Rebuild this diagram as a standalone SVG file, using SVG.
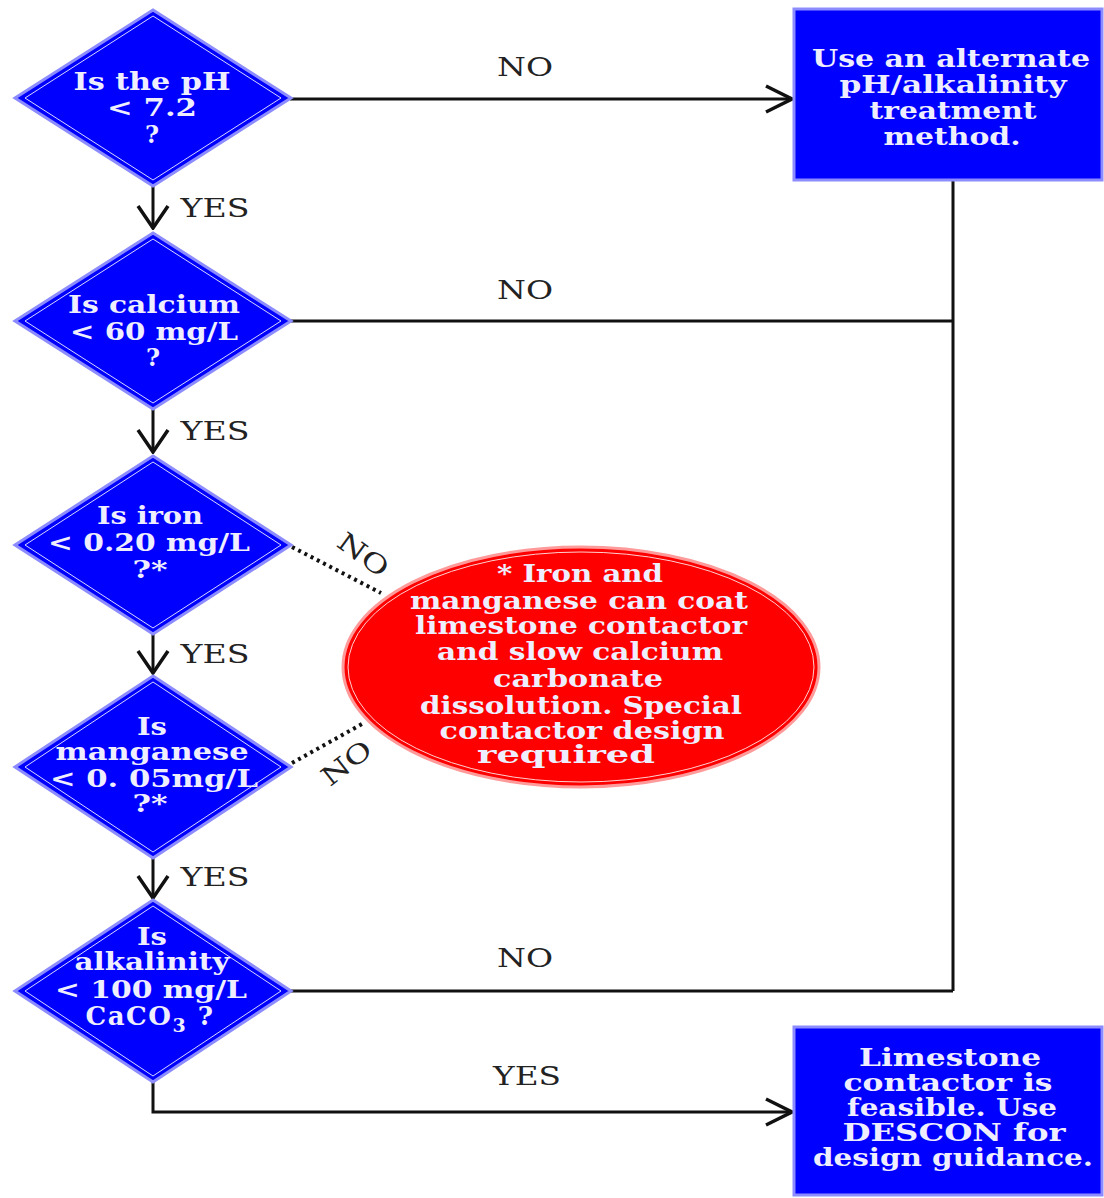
<svg xmlns="http://www.w3.org/2000/svg" width="1104" height="1198" viewBox="0 0 1104 1198">
<style>
.dia{fill:#0000ff;stroke:#8c8cff;stroke-width:3}
.inner{fill:none;stroke:#d8d8ff;stroke-width:1}
.box{fill:#0000ff;stroke:#8c8cff;stroke-width:3}
.t{font-family:"DejaVu Serif","Liberation Serif",serif;font-weight:bold;font-size:24px;fill:#eeeeff;text-anchor:middle}
.lbl{font-family:"DejaVu Serif","Liberation Serif",serif;font-size:26px;fill:#222;text-anchor:middle}
.ln{fill:none;stroke:#111;stroke-width:3}
.dot{fill:none;stroke:#111;stroke-width:4;stroke-dasharray:3 4}
</style>
<defs>
<marker id="ar" viewBox="0 0 30 30" refX="28" refY="15" markerWidth="30" markerHeight="30" markerUnits="userSpaceOnUse" orient="auto">
<path d="M2,2 L28,15 L2,28" fill="none" stroke="#111" stroke-width="3.5"/>
</marker>
<marker id="ad" viewBox="0 0 26 34" refX="24" refY="17" markerWidth="26" markerHeight="34" markerUnits="userSpaceOnUse" orient="auto">
<path d="M2,2 L24,17 L2,32" fill="none" stroke="#111" stroke-width="3.5"/>
</marker>
</defs>
<rect width="1104" height="1198" fill="#ffffff"/>

<g id="connectors">
<line class="ln" x1="290" y1="99" x2="792" y2="99" marker-end="url(#ar)"/>
<line class="ln" x1="953" y1="180" x2="953" y2="991"/>
<line class="ln" x1="290" y1="321" x2="953" y2="321"/>
<line class="ln" x1="290" y1="991" x2="953" y2="991"/>
<path class="ln" d="M153,1082 V1112 H792" marker-end="url(#ar)"/>
<line class="ln" x1="153" y1="186" x2="153" y2="228" marker-end="url(#ad)"/>
<line class="ln" x1="153" y1="409" x2="153" y2="452" marker-end="url(#ad)"/>
<line class="ln" x1="153" y1="633" x2="153" y2="673" marker-end="url(#ad)"/>
<line class="ln" x1="153" y1="858" x2="153" y2="898" marker-end="url(#ad)"/>
<line class="dot" x1="292" y1="547" x2="381" y2="593"/>
<line class="dot" x1="292" y1="763" x2="362" y2="724"/>
<text class="lbl" x="525" y="76" textLength="56" lengthAdjust="spacingAndGlyphs">NO</text>
<text class="lbl" x="525" y="299" textLength="56" lengthAdjust="spacingAndGlyphs">NO</text>
<text class="lbl" x="525" y="967" textLength="56" lengthAdjust="spacingAndGlyphs">NO</text>
<text class="lbl" x="527" y="1085" textLength="68" lengthAdjust="spacingAndGlyphs">YES</text>
<text class="lbl" x="215" y="217" textLength="69" lengthAdjust="spacingAndGlyphs">YES</text>
<text class="lbl" x="215" y="440" textLength="69" lengthAdjust="spacingAndGlyphs">YES</text>
<text class="lbl" x="215" y="663" textLength="69" lengthAdjust="spacingAndGlyphs">YES</text>
<text class="lbl" x="215" y="886" textLength="69" lengthAdjust="spacingAndGlyphs">YES</text>
<text class="lbl" transform="translate(358,562) rotate(36)" x="0" y="0" textLength="56" lengthAdjust="spacingAndGlyphs">NO</text>
<text class="lbl" transform="translate(352,770) rotate(-38)" x="0" y="0" textLength="56" lengthAdjust="spacingAndGlyphs">NO</text>
</g>

<g id="q-ph">
<polygon class="dia" points="153,10 291,98 153,186 15,98"/>
<polygon class="inner" points="153,16 281,98 153,180 25,98"/>
<text class="t" x="152" y="90" textLength="157" lengthAdjust="spacingAndGlyphs">Is the pH</text>
<text class="t" x="152" y="116" textLength="90" lengthAdjust="spacingAndGlyphs">&lt; 7.2</text>
<text class="t" x="152" y="143">?</text>
</g>

<g id="q-calcium">
<polygon class="dia" points="153,233 291,321 153,409 15,321"/>
<polygon class="inner" points="153,239 281,321 153,403 25,321"/>
<text class="t" x="154" y="313" textLength="172" lengthAdjust="spacingAndGlyphs">Is calcium</text>
<text class="t" x="154" y="340" textLength="168" lengthAdjust="spacingAndGlyphs">&lt; 60 mg/L</text>
<text class="t" x="153" y="366">?</text>
</g>

<g id="q-iron">
<polygon class="dia" points="153,456 291,545 153,634 15,545"/>
<polygon class="inner" points="153,462 281,545 153,628 25,545"/>
<text class="t" x="150" y="524" textLength="106" lengthAdjust="spacingAndGlyphs">Is iron</text>
<text class="t" x="149" y="551" textLength="202" lengthAdjust="spacingAndGlyphs">&lt; 0.20 mg/L</text>
<text class="t" x="150" y="578" textLength="35" lengthAdjust="spacingAndGlyphs">?*</text>
</g>

<g id="q-manganese">
<polygon class="dia" points="153,676 291,767 153,858 15,767"/>
<polygon class="inner" points="153,682 281,767 153,852 25,767"/>
<text class="t" x="152" y="735" textLength="30" lengthAdjust="spacingAndGlyphs">Is</text>
<text class="t" x="152" y="760" textLength="193" lengthAdjust="spacingAndGlyphs">manganese</text>
<text class="t" x="154" y="787" textLength="208" lengthAdjust="spacingAndGlyphs">&lt; 0. 05mg/L</text>
<text class="t" x="150" y="812" textLength="35" lengthAdjust="spacingAndGlyphs">?*</text>
</g>

<g id="q-alkalinity">
<polygon class="dia" points="153,900 291,991 153,1082 15,991"/>
<polygon class="inner" points="153,906 281,991 153,1076 25,991"/>
<text class="t" x="152" y="945" textLength="30" lengthAdjust="spacingAndGlyphs">Is</text>
<text class="t" x="152" y="970" textLength="155" lengthAdjust="spacingAndGlyphs">alkalinity</text>
<text class="t" x="151" y="998" textLength="192" lengthAdjust="spacingAndGlyphs">&lt; 100 mg/L</text>
<text class="t" x="150" y="1025" style="font-size:26px;letter-spacing:1.5px">CaCO<tspan style="font-size:19px" dy="7">3</tspan><tspan dy="-7"> ?</tspan></text>
</g>

<g id="alt-method">
<rect class="box" x="794" y="9" width="308" height="171"/>
<text class="t" x="951" y="67" textLength="278" lengthAdjust="spacingAndGlyphs">Use an alternate</text>
<text class="t" x="953" y="93" textLength="227" lengthAdjust="spacingAndGlyphs">pH/alkalinity</text>
<text class="t" x="953" y="119" textLength="167" lengthAdjust="spacingAndGlyphs">treatment</text>
<text class="t" x="952" y="145" textLength="137" lengthAdjust="spacingAndGlyphs">method.</text>
</g>

<g id="limestone-feasible">
<rect class="box" x="794" y="1027" width="308" height="168"/>
<text class="t" x="950" y="1066" textLength="182" lengthAdjust="spacingAndGlyphs">Limestone</text>
<text class="t" x="948" y="1091" textLength="209" lengthAdjust="spacingAndGlyphs">contactor is</text>
<text class="t" x="952" y="1116" textLength="210" lengthAdjust="spacingAndGlyphs">feasible. Use</text>
<text class="t" x="954" y="1141" textLength="223" lengthAdjust="spacingAndGlyphs">DESCON for</text>
<text class="t" x="953" y="1166" textLength="280" lengthAdjust="spacingAndGlyphs">design guidance.</text>
</g>

<g id="iron-manganese-note">
<ellipse cx="581" cy="667" rx="238" ry="120" fill="#ff0000" stroke="#ff9a9a" stroke-width="3"/>
<ellipse cx="581" cy="667" rx="233" ry="115" fill="none" stroke="#ffd0d0" stroke-width="1"/>
<text class="t" x="580" y="582" textLength="166" lengthAdjust="spacingAndGlyphs">* Iron and</text>
<text class="t" x="579" y="609" textLength="338" lengthAdjust="spacingAndGlyphs">manganese can coat</text>
<text class="t" x="581" y="634" textLength="332" lengthAdjust="spacingAndGlyphs">limestone contactor</text>
<text class="t" x="580" y="660" textLength="286" lengthAdjust="spacingAndGlyphs">and slow calcium</text>
<text class="t" x="578" y="687" textLength="170" lengthAdjust="spacingAndGlyphs">carbonate</text>
<text class="t" x="581" y="714" textLength="322" lengthAdjust="spacingAndGlyphs">dissolution. Special</text>
<text class="t" x="582" y="739" textLength="285" lengthAdjust="spacingAndGlyphs">contactor design</text>
<text class="t" x="566" y="763" textLength="178" lengthAdjust="spacingAndGlyphs">required</text>
</g>
</svg>
